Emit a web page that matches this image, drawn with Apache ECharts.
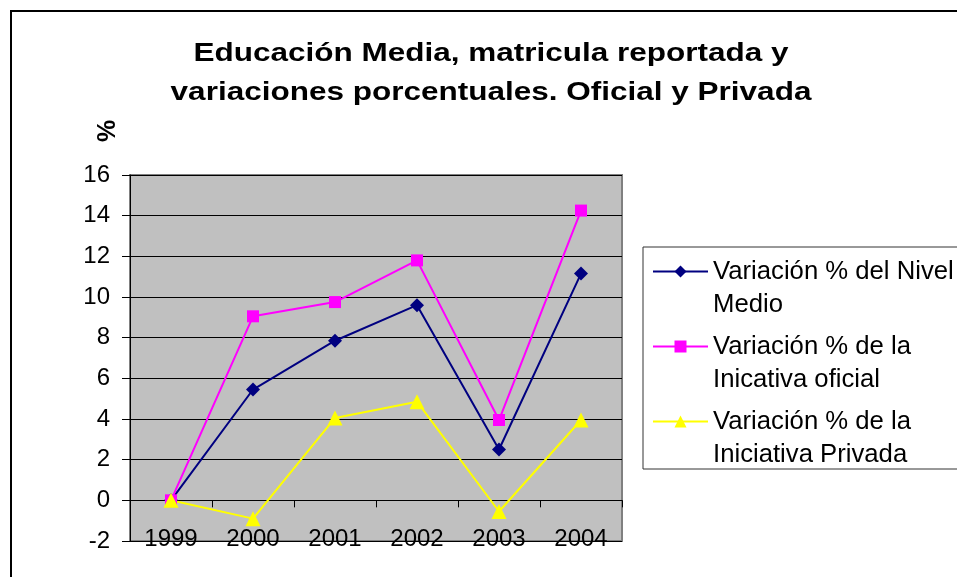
<!DOCTYPE html>
<html>
<head>
<meta charset="utf-8">
<script src="https://cdn.jsdelivr.net/npm/echarts@6/dist/echarts.min.js"></script>
<style>
  html, body { margin: 0; padding: 0; background: #fff; }
  #main { width: 957px; height: 577px; }
</style>
</head>
<body>
<div id="main"></div>
<script>
// datos
var years = ['1999', '2000', '2001', '2002', '2003', '2004'];
var nivelMedio = [0, 5.45, 7.85, 9.6, 2.5, 11.15];
var oficial = [0, 9.05, 9.75, 11.8, 3.95, 14.25];
var privada = [0, -0.9, 4.05, 4.85, -0.55, 3.95];
var seriesNames = [
    'Variación % del Nivel\nMedio',
    'Variación % de la\nInicativa oficial',
    'Variación % de la\nIniciativa Privada'
];
var titulo = 'Educación Media, matricula reportada y\nvariaciones porcentuales. Oficial y Privada';

var font = 'Liberation Sans, Arial, sans-serif';
var myChart = echarts.init(document.getElementById('main'));

var option = {
    backgroundColor: '#fff',
    animation: false,
    graphic: [
        {
            // marco exterior del grafico
            type: 'rect',
            shape: { x: 11, y: 11, width: 980, height: 600 },
            style: { fill: 'none', stroke: '#000', lineWidth: 2 },
            silent: true
        },
        {
            // caja de la leyenda
            type: 'rect',
            shape: { x: 643, y: 247, width: 340, height: 222 },
            style: { fill: '#fff', stroke: '#333', lineWidth: 1 },
            z: -1,
            silent: true
        },
        {
            // titulo (estirado en horizontal como en el original)
            type: 'text',
            x: 491,
            y: 74,
            scaleX: 1.26,
            style: {
                text: titulo,
                fontFamily: font,
                fontSize: 25,
                fontWeight: 'bold',
                lineHeight: 39,
                fill: '#000',
                align: 'center',
                verticalAlign: 'middle'
            }
        },
        {
            type: 'text',
            x: 108,
            y: 131,
            rotation: Math.PI / 2,
            style: {
                text: '%',
                fontFamily: font,
                fontSize: 25,
                fontWeight: 'bold',
                fill: '#000',
                align: 'center',
                verticalAlign: 'middle'
            }
        }
    ],
    legend: {
        orient: 'vertical',
        left: 652,
        top: 222,
        padding: 0,
        itemWidth: 55,
        itemHeight: 15,
        itemGap: -24,
        data: seriesNames,
        // linea en blanco arriba para que el icono quede en la primera linea
        formatter: function (name) {
            return '\n' + name;
        },
        textStyle: {
            fontFamily: font,
            fontSize: 25.7,
            color: '#000',
            lineHeight: 33
        }
    },
    grid: {
        left: 130,
        right: 335,
        top: 175,
        bottom: 36,
        outerBoundsMode: 'none',
        show: true,
        backgroundColor: '#c0c0c0',
        borderColor: '#808080',
        borderWidth: 2
    },
    xAxis: {
        type: 'category',
        data: years,
        boundaryGap: true,
        axisLine: { onZero: true, lineStyle: { color: '#000', width: 1 } },
        axisTick: { show: true, length: 7, lineStyle: { color: '#000' } },
        axisLabel: {
            margin: -14,
            fontFamily: font,
            fontSize: 24,
            color: '#000'
        },
        splitLine: { show: false }
    },
    yAxis: {
        type: 'value',
        min: -2,
        max: 16,
        interval: 2,
        axisLine: { show: true, lineStyle: { color: '#000', width: 1 } },
        axisTick: { show: true, length: 8, lineStyle: { color: '#000' } },
        axisLabel: {
            margin: 20,
            fontFamily: font,
            fontSize: 24,
            color: '#000'
        },
        splitLine: { show: true, lineStyle: { color: '#000', width: 1 } }
    },
    series: [
        {
            name: seriesNames[0],
            type: 'line',
            data: nivelMedio,
            symbol: 'diamond',
            symbolSize: 14,
            color: '#000080',
            lineStyle: { width: 2, color: '#000080' },
            itemStyle: { color: '#000080' }
        },
        {
            name: seriesNames[1],
            type: 'line',
            data: oficial,
            symbol: 'rect',
            symbolSize: 12,
            color: '#ff00ff',
            lineStyle: { width: 2, color: '#ff00ff' },
            itemStyle: { color: '#ff00ff' }
        },
        {
            name: seriesNames[2],
            type: 'line',
            data: privada,
            symbol: 'triangle',
            symbolSize: 15,
            color: '#ffff00',
            lineStyle: { width: 2, color: '#ffff00' },
            itemStyle: { color: '#ffff00' }
        }
    ]
};

myChart.setOption(option);
</script>
</body>
</html>
